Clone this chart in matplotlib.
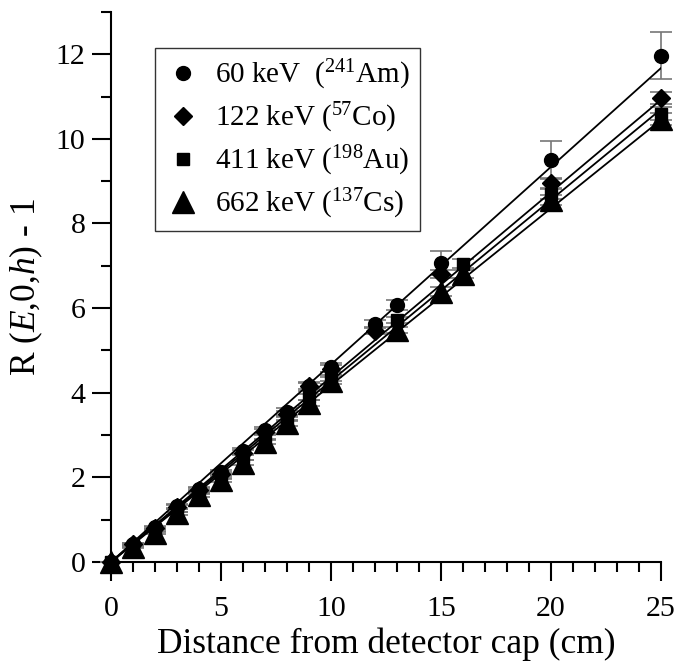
import numpy as np
import matplotlib
matplotlib.use("Agg")
import matplotlib.pyplot as plt
from matplotlib.ticker import MultipleLocator

plt.rcParams['font.family'] = ['Liberation Serif', 'DejaVu Serif']
plt.rcParams['mathtext.fontset'] = 'custom'
plt.rcParams['mathtext.rm'] = 'Liberation Serif'
plt.rcParams['mathtext.it'] = 'Liberation Serif:italic'

# 60 keV (241Am)
x_am = [0, 1, 2, 3, 4, 5, 6, 7, 8, 9, 10, 12, 13, 15, 20, 25]
y_am = [0, 0.42, 0.82, 1.32, 1.72, 2.12, 2.62, 3.12, 3.55, 4.15, 4.6, 5.62, 6.07, 7.06, 9.5, 11.97]
e_am = [0, 0.02, 0.03, 0.04, 0.05, 0.06, 0.07, 0.08, 0.09, 0.1, 0.1, 0.1, 0.12, 0.28, 0.45, 0.55]
# 122 keV (57Co)
x_co = [0, 1, 2, 3, 4, 5, 6, 7, 8, 9, 10, 12, 15, 20, 25]
y_co = [0, 0.42, 0.8, 1.3, 1.7, 2.08, 2.58, 3.08, 3.5, 4.15, 4.57, 5.47, 6.8, 8.95, 10.97]
e_co = [0, 0.02, 0.03, 0.04, 0.05, 0.05, 0.06, 0.06, 0.07, 0.07, 0.08, 0.08, 0.1, 0.12, 0.15]
# 411 keV (198Au)
x_au = [0, 1, 2, 3, 4, 5, 6, 7, 8, 9, 10, 13, 16, 20, 25]
y_au = [0, 0.38, 0.75, 1.22, 1.65, 2.02, 2.48, 2.95, 3.4, 3.9, 4.35, 5.72, 7.05, 8.7, 10.6]
e_au = [0, 0.02, 0.03, 0.04, 0.05, 0.05, 0.06, 0.06, 0.07, 0.07, 0.08, 0.08, 0.1, 0.12, 0.15]
# 662 keV (137Cs)
x_cs = [0, 1, 2, 3, 4, 5, 6, 7, 8, 9, 10, 13, 15, 16, 20, 25]
y_cs = [0, 0.35, 0.68, 1.15, 1.58, 1.94, 2.34, 2.84, 3.28, 3.75, 4.28, 5.48, 6.39, 6.8, 8.55, 10.47]
e_cs = [0, 0.02, 0.03, 0.04, 0.05, 0.05, 0.06, 0.06, 0.07, 0.07, 0.08, 0.08, 0.1, 0.1, 0.12, 0.15]

# fitted slopes of the straight lines through the origin
fit_slopes = [0.467, 0.437, 0.428, 0.418]
fit_x = [0, 25]

labels = [r"60 keV  ($^{241}$Am)", r"122 keV ($^{57}$Co)",
          r"411 keV ($^{198}$Au)", r"662 keV ($^{137}$Cs)"]
markers = ['o', 'D', 's', '^']
sizes = [10, 9, 9, 16]

fig = plt.figure(figsize=(6.9, 6.65), dpi=100)
ax = fig.add_axes([0.161, 0.155, 0.797, 0.827])

series = [(x_am, y_am, e_am), (x_co, y_co, e_co), (x_au, y_au, e_au), (x_cs, y_cs, e_cs)]
for k, (xs, ys, es) in enumerate(series):
    ax.errorbar(xs, ys, yerr=es, fmt='none', ecolor='#777777', elinewidth=1.2,
                capsize=8, capthick=1.2, zorder=2, clip_on=False)
for k, s in enumerate(fit_slopes):
    ax.plot(fit_x, [s * v for v in fit_x], color='black', lw=1.3, zorder=3)
for k, (xs, ys, es) in enumerate(series):
    ax.plot(xs, ys, linestyle='none', marker=markers[k], ms=sizes[k],
            color='black', label=labels[k], zorder=4, clip_on=False)

ax.set_xlim(0, 25)
ax.set_ylim(0, 13)
ax.xaxis.set_major_locator(MultipleLocator(5))
ax.xaxis.set_minor_locator(MultipleLocator(1))
ax.yaxis.set_major_locator(MultipleLocator(2))
ax.yaxis.set_minor_locator(MultipleLocator(1))
ax.spines['top'].set_visible(False)
ax.spines['right'].set_visible(False)
for sp in ['left', 'bottom']:
    ax.spines[sp].set_linewidth(1.5)
ax.tick_params(which='major', direction='out', length=13.5, width=1.5,
               labelsize=21.5, pad=5)
ax.tick_params(axis='x', which='major', pad=11)
ax.tick_params(which='minor', direction='out', length=7, width=1.5)

ax.set_xlabel("Distance from detector cap (cm)", fontsize=25.5, labelpad=4)
ax.set_ylabel(r"R ($\mathit{E}$,0,$\mathit{h}$) - 1", fontsize=25.5, labelpad=8)

leg = ax.legend(loc='upper left', bbox_to_anchor=(0.08, 0.935), fontsize=21,
                frameon=True, fancybox=False, edgecolor='black',
                handletextpad=0.5, borderpad=0.35, labelspacing=0.3,
                handlelength=1.2, borderaxespad=0)
leg.get_frame().set_linewidth(1.0)

fig.savefig("out.png", dpi=100)
